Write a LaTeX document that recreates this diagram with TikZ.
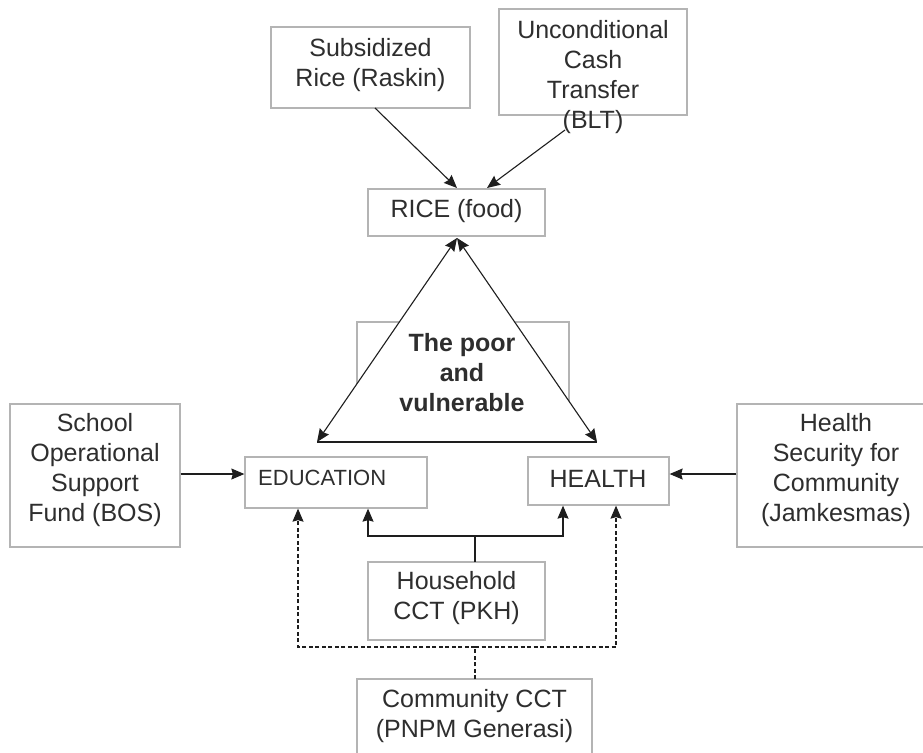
\documentclass[tikz,border=0pt]{standalone}
\usepackage{fontspec}
\setmainfont{Liberation Sans}
\usetikzlibrary{arrows.meta}
\definecolor{boxgray}{HTML}{B4B4B4}
\definecolor{textgray}{HTML}{2E2E2E}
\definecolor{linegray}{HTML}{1E1E1E}
\begin{document}
\begin{tikzpicture}[x=1pt,y=-1pt,
  box/.style={draw=boxgray, line width=1.3pt, inner sep=0pt, fill=white},
  txt/.style={align=center, font=\fontsize{25}{30}\selectfont, text=textgray, inner sep=0pt},
  arr/.style={-{Stealth[length=13pt,width=11pt,inset=1.5pt]}, line width=1.1pt, draw=linegray},
  darr/.style={{Stealth[length=13pt,width=11pt,inset=1.5pt]}-{Stealth[length=13pt,width=11pt,inset=1.5pt]}, line width=1.1pt, draw=linegray},
  plainline/.style={line width=1.1pt, draw=linegray},
  dashline/.style={line width=1.1pt, draw=linegray, dash pattern=on 4pt off 2.5pt}]
\useasboundingbox (0,0) rectangle (923,752);
\fill[white] (0,0) rectangle (923,752);

% boxes
\node[box, minimum width=199pt, minimum height=81pt] (raskin) at (370.5,67.5) {};
\node[box, minimum width=188pt, minimum height=106pt] (blt) at (593,62) {};
\node[box, minimum width=177pt, minimum height=47pt] (rice) at (456.5,212.5) {};
\node[box, minimum width=212pt, minimum height=98pt] (poor) at (463,371) {};
\node[box, minimum width=182pt, minimum height=51pt] (edu) at (336,482.5) {};
\node[box, minimum width=141pt, minimum height=48pt] (health) at (598.5,481) {};
\node[box, minimum width=170pt, minimum height=143pt] (bos) at (95,475.5) {};
\node[box, minimum width=190pt, minimum height=143pt] (jam) at (832,475.5) {};
\node[box, minimum width=177pt, minimum height=78pt] (pkh) at (456.5,601) {};
\node[box, minimum width=235pt, minimum height=90pt] (cct) at (474.5,724) {};

% triangle corners
\coordinate (apex) at (457,238);
\coordinate (tl) at (317,442);
\coordinate (tr) at (597,442);
\fill[white] (apex) -- (tl) -- (tr) -- cycle;

% texts
\node[txt] (raskintxt) at (370.5,65) {Subsidized\\Rice (Raskin)};
\node[txt] (blttxt) at (593,77) {Unconditional\\Cash\\Transfer\\(BLT)};
\node[txt] (ricetxt) at (456.5,211) {RICE (food)};
\node[txt, font=\bfseries\fontsize{25}{30}\selectfont] (poortxt) at (462,373) {The poor\\and\\vulnerable};
\node[txt, anchor=west, font=\fontsize{22}{26}\selectfont] (edutxt) at (258,478) {EDUCATION};
\node[txt] (healthtxt) at (598,479) {HEALTH};
\node[txt] (bostxt) at (95,470) {School\\Operational\\Support\\Fund (BOS)};
\node[txt] (jamtxt) at (836,470) {Health\\Security for\\Community\\(Jamkesmas)};
\node[txt] (pkhtxt) at (456.5,598) {Household\\CCT (PKH)};
\node[txt] (ccttxt) at (474.5,716) {Community CCT\\(PNPM Generasi)};

% top arrows
\coordinate (rs) at (375,108);
\coordinate (ricein1) at (457,188);
\coordinate (bs) at (565,130);
\coordinate (ricein2) at (487,188);
\draw[arr] (rs) -- (ricein1);
\draw[arr] (bs) -- (ricein2);

% triangle
\draw[darr] (apex) -- (tl);
\draw[darr] (apex) -- (tr);
\draw[plainline] (tl) -- (tr);

% side arrows
\draw[arr] (bos.east |- 0,474) -- (edu.west |- 0,474);
\draw[arr] (jam.west |- 0,474) -- (health.east |- 0,474);

% household CCT
\coordinate (pkhtop) at (475,562);
\coordinate (pkhj) at (475,536);
\coordinate (pe) at (368,536);
\coordinate (ph) at (563,536);
\draw[plainline] (pkhtop) -- (pkhj);
\draw[arr] (pkhj) -- (pe) -- (pe |- edu.south);
\draw[arr] (pkhj) -- (ph) -- (ph |- health.south);

% community CCT
\coordinate (ccttop) at (475,679);
\coordinate (cctj) at (475,647);
\coordinate (ce) at (298,647);
\coordinate (ch) at (616,647);
\draw[dashline] (ccttop) -- (cctj);
\draw[dashline, -{Stealth[length=13pt,width=11pt,inset=1.5pt]}] (cctj) -- (ce) -- (ce |- edu.south);
\draw[dashline, -{Stealth[length=13pt,width=11pt,inset=1.5pt]}] (cctj) -- (ch) -- (ch |- health.south);
\end{tikzpicture}
\end{document}
